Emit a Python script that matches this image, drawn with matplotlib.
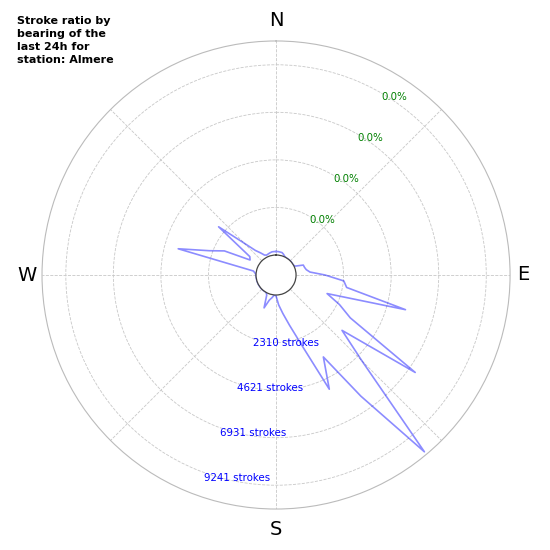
import numpy as np
import matplotlib
matplotlib.use("Agg")
import matplotlib.pyplot as plt
from matplotlib.transforms import offset_copy

# bearing bins (degrees) and stroke counts per bin
bearings = list(range(0, 360, 5))
strokes = [170, 170, 160, 155, 97, 24, 0, 0, 0, 0, 0, 0, 0, 48, 437, 461,
           520, 680, 1409, 2332, 2511, 5538, 1666, 2429, 3192, 7283, 3211, 4931,
           10241, 6214, 3624, 5150, 2623, 1554, 923, 486, 48, 0, 145, 291,
           728, 97, 0, 0, 0, 0, 0, 0, 0, 0, 0, 0, 0, 0,
           0, 48, 145, 3950, 2478, 1797, 486, 583, 2672, 1214, 583, 340,
           145, 97, 121, 145, 170, 170]

r_max = 10397
stroke_ticks = [2310, 4621, 6931, 9241]
stroke_labels = ["2310 strokes", "4621 strokes", "6931 strokes", "9241 strokes"]
pct_labels = ["0.0%", "0.0%", "0.0%", "0.0%"]
cardinal_names = ["N", "E", "S", "W"]
cardinal_angles = [0, 90, 180, 270]
title = "Stroke ratio by\nbearing of the\nlast 24h for\nstation: Almere"

fig = plt.figure(figsize=(5.5, 5.5), dpi=100)
ax = fig.add_axes([0.0764, 0.0745, 0.851, 0.851], projection="polar")
ax.set_theta_zero_location("N")
ax.set_theta_direction(-1)
ax.set_ylim(0, r_max)
ax.set_rorigin(-0.0935 * r_max)

theta = np.deg2rad(bearings + [bearings[0]])
vals = strokes + [strokes[0]]
ax.plot(theta, vals, color="blue", alpha=0.45, lw=1.2)

ax.set_thetagrids(np.arange(0, 360, 45), [""] * 8)
ax.set_rticks(stroke_ticks)
ax.set_yticklabels([])
ax.grid(True, color="#c8c8c8", linestyle="--", lw=0.6)
ax.spines["polar"].set_color("#bbbbbb")
ax.spines["polar"].set_linewidth(0.8)
ax.spines["inner"].set_color("#444444")
ax.spines["inner"].set_linewidth(0.9)

# cardinal direction labels just outside the outer ring
card_r = [1.098, 1.06, 1.098, 1.07]
for ang, name, f in zip(cardinal_angles, cardinal_names, card_r):
    ax.text(np.deg2rad(ang), r_max * f, name, fontsize=14,
            ha="center", va="center", clip_on=False)

for rv, lab in zip(stroke_ticks, stroke_labels):
    ax.text(np.deg2rad(200), rv, lab, color="blue", fontsize=7.4,
            ha="left", va="top")
pct_tr = offset_copy(ax.transData, fig=fig, x=0, y=-4, units="dots")
for rv, lab in zip(stroke_ticks, pct_labels):
    ax.text(np.deg2rad(30), rv, lab, color="green", fontsize=7.4,
            ha="left", va="center", transform=pct_tr)

fig.text(0.031, 0.97, title, fontsize=8, fontweight="bold",
         ha="left", va="top", linespacing=1.36)

fig.savefig("out.png", dpi=100)
